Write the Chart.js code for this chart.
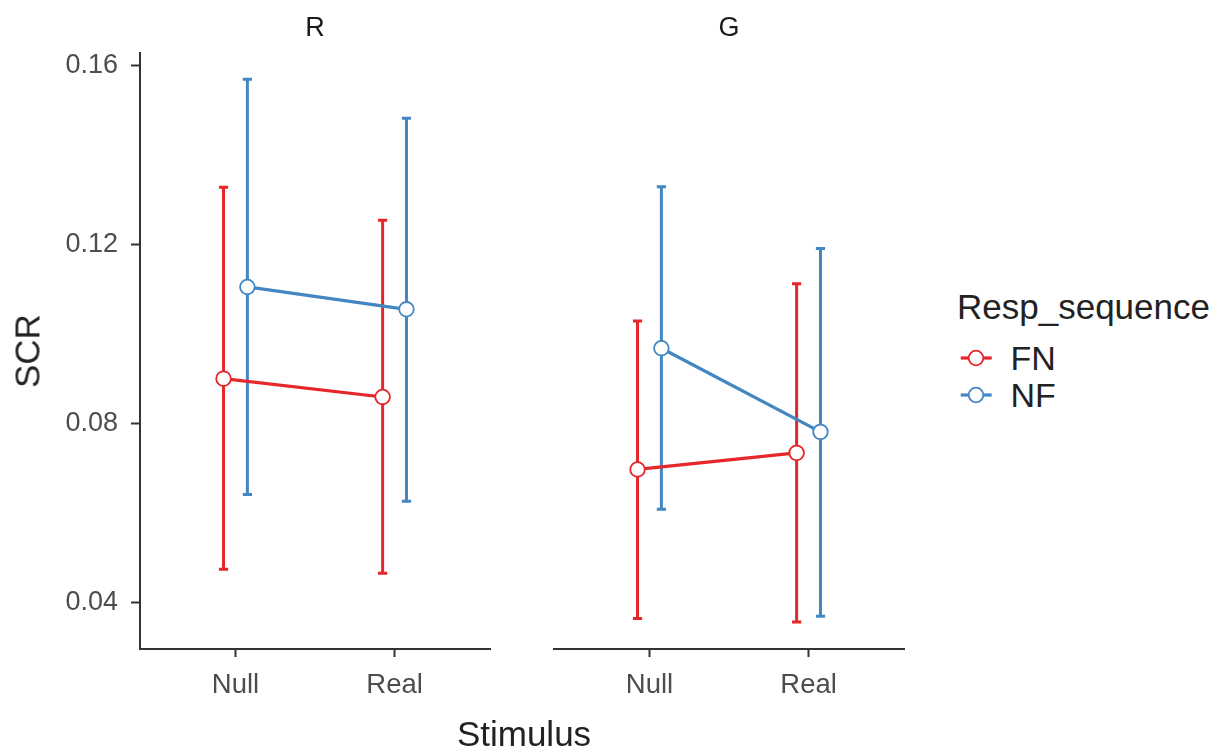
<!DOCTYPE html>
<html>
<head>
<meta charset="utf-8">
<script src="https://cdn.jsdelivr.net/npm/chart.js@4/dist/chart.umd.min.js"></script>
<style>
  html, body { margin:0; padding:0; background:#fff; }
  #wrap { position:relative; width:1220px; height:748px; overflow:hidden; font-family:"Liberation Sans", Arial, sans-serif; }
  canvas { position:absolute; }
  .lbl { position:absolute; line-height:1; white-space:nowrap; }
  .c { transform:translate(-50%,-50%); }
  .l { transform:translate(0,-50%); }
</style>
</head>
<body>
<div id="wrap">
  <canvas id="cR" width="500" height="748" style="left:0;top:0"></canvas>
  <canvas id="cG" width="414" height="748" style="left:504px;top:0"></canvas>
  <div class="lbl c" id="stripR" style="left:315px;top:27px;font-size:27px;color:#1a1a1a"></div>
  <div class="lbl c" id="stripG" style="left:729px;top:27px;font-size:27px;color:#1a1a1a"></div>
  <div class="lbl c" id="xtitle" style="left:524px;top:733px;font-size:35px;color:#222"></div>
  <div class="lbl c" id="ytitle" style="left:27px;top:351px;font-size:35px;color:#222;transform:translate(-50%,-50%) rotate(-90deg)"></div>
  <div class="lbl l" id="legtitle" style="left:957px;top:306px;font-size:35px;color:#222"></div>
  <div id="legitems"></div>
</div>
<script>
// ---- data ----
const panels = ['R', 'G'];
const categories = ['Null', 'Real'];
const seriesNames = ['FN', 'NF'];
const seriesColors = ['#E6262A', '#4286C2'];
const yTicks = [0.04, 0.08, 0.12, 0.16];

// panel R
const R_FN_mean = [0.0900, 0.0859];
const R_FN_lo   = [0.0474, 0.0465];
const R_FN_hi   = [0.1328, 0.1254];
const R_NF_mean = [0.1105, 0.1055];
const R_NF_lo   = [0.0641, 0.0626];
const R_NF_hi   = [0.1569, 0.1482];
// panel G
const G_FN_mean = [0.0697, 0.0734];
const G_FN_lo   = [0.0364, 0.0356];
const G_FN_hi   = [0.1029, 0.1112];
const G_NF_mean = [0.0968, 0.0781];
const G_NF_lo   = [0.0608, 0.0369];
const G_NF_hi   = [0.1329, 0.1191];

const xTitle = 'Stimulus';
const yTitle = 'SCR';
const legendTitle = 'Resp_sequence';

// ---- layout / style ----
const Y_MIN = 0.02956, Y_MAX = 0.16286;
const X_MIN = 0.4, X_MAX = 2.6;
const DODGE = 0.075;
const FONT = '"Liberation Sans", Arial, sans-serif';
const AXIS_COLOR = '#333333';

document.getElementById('stripR').textContent = panels[0];
document.getElementById('stripG').textContent = panels[1];
document.getElementById('xtitle').textContent = xTitle;
document.getElementById('ytitle').textContent = yTitle;
document.getElementById('legtitle').textContent = legendTitle;

// legend items
const legY = [358.3, 395];
const legItems = document.getElementById('legitems');
seriesNames.forEach((name, i) => {
  const svgNS = 'http://www.w3.org/2000/svg';
  const svg = document.createElementNS(svgNS, 'svg');
  svg.setAttribute('width', '40'); svg.setAttribute('height', '24');
  svg.style.position = 'absolute';
  svg.style.left = '956px';
  svg.style.top = (legY[i] - 12) + 'px';
  const line = document.createElementNS(svgNS, 'line');
  line.setAttribute('x1', '4.7'); line.setAttribute('x2', '35.7');
  line.setAttribute('y1', '12'); line.setAttribute('y2', '12');
  line.setAttribute('stroke', seriesColors[i]); line.setAttribute('stroke-width', '3.2');
  const circ = document.createElementNS(svgNS, 'circle');
  circ.setAttribute('cx', '20'); circ.setAttribute('cy', '12'); circ.setAttribute('r', '7.3');
  circ.setAttribute('fill', '#fff'); circ.setAttribute('stroke', seriesColors[i]); circ.setAttribute('stroke-width', '1.8');
  svg.appendChild(line); svg.appendChild(circ);
  legItems.appendChild(svg);
  const t = document.createElement('div');
  t.className = 'lbl l';
  t.style.left = '1010.5px'; t.style.top = legY[i] + 'px';
  t.style.fontSize = '34px'; t.style.color = '#222';
  t.textContent = name;
  legItems.appendChild(t);
});

function buildDatasets(seriesData) {
  const ds = [];
  seriesData.forEach((s, si) => {
    const off = si === 0 ? -DODGE : DODGE;
    const col = seriesColors[si];
    // error bars
    categories.forEach((c, ci) => {
      ds.push({
        type: 'line',
        data: [{ x: ci + 1 + off, y: s.lo[ci] }, { x: ci + 1 + off, y: s.hi[ci] }],
        borderColor: col, borderWidth: 3,
        pointStyle: 'line', pointRadius: 4.6, pointBorderWidth: 3,
        pointBorderColor: col, pointBackgroundColor: col,
        order: 3
      });
    });
    // connecting line
    ds.push({
      type: 'line',
      data: categories.map((c, ci) => ({ x: ci + 1 + off, y: s.mean[ci] })),
      borderColor: col, borderWidth: 3.2, pointRadius: 0,
      order: 2
    });
    // points
    ds.push({
      type: 'line',
      showLine: false,
      data: categories.map((c, ci) => ({ x: ci + 1 + off, y: s.mean[ci] })),
      pointRadius: 7.3, pointBorderWidth: 1.8,
      pointBorderColor: col, pointBackgroundColor: '#ffffff',
      order: 1
    });
  });
  return ds;
}

function makeChart(id, seriesData, showY, padding) {
  return new Chart(document.getElementById(id), {
    type: 'line',
    data: { datasets: buildDatasets(seriesData) },
    options: {
      responsive: false,
      animation: false,
      events: [],
      layout: { padding: padding, autoPadding: false },
      plugins: { legend: { display: false }, tooltip: { enabled: false }, title: { display: false } },
      scales: {
        x: {
          type: 'linear', min: X_MIN, max: X_MAX,
          afterBuildTicks: (sc) => { sc.ticks = categories.map((c, i) => ({ value: i + 1 })); },
          afterFit: (sc) => { sc.height = 99; },
          ticks: {
            callback: (v) => categories[Math.round(v) - 1],
            autoSkip: false, maxRotation: 0, padding: 12,
            color: '#4D4D4D', font: { family: FONT, size: 27.5 }
          },
          grid: { display: true, drawOnChartArea: false, drawTicks: true, tickLength: 8, tickWidth: 2, tickColor: AXIS_COLOR },
          border: { display: true, color: AXIS_COLOR, width: 2 }
        },
        y: {
          type: 'linear', min: Y_MIN, max: Y_MAX, display: showY,
          afterBuildTicks: (sc) => { sc.ticks = yTicks.map(v => ({ value: v })); },
          afterFit: (sc) => { sc.width = showY ? 140 : 0; },
          ticks: {
            callback: (v) => v.toFixed(2),
            padding: 13,
            color: '#4D4D4D', font: { family: FONT, size: 27 }
          },
          grid: { display: true, drawOnChartArea: false, drawTicks: true, tickLength: 9, tickWidth: 2, tickColor: AXIS_COLOR },
          border: { display: true, color: AXIS_COLOR, width: 2 }
        }
      }
    }
  });
}

makeChart('cR', [
  { mean: R_FN_mean, lo: R_FN_lo, hi: R_FN_hi },
  { mean: R_NF_mean, lo: R_NF_lo, hi: R_NF_hi }
], true, { top: 52.7, right: 10, bottom: 0, left: 0 });

makeChart('cG', [
  { mean: G_FN_mean, lo: G_FN_lo, hi: G_FN_hi },
  { mean: G_NF_mean, lo: G_NF_lo, hi: G_NF_hi }
], false, { top: 52.7, right: 14, bottom: 0, left: 50 });
</script>
</body>
</html>
